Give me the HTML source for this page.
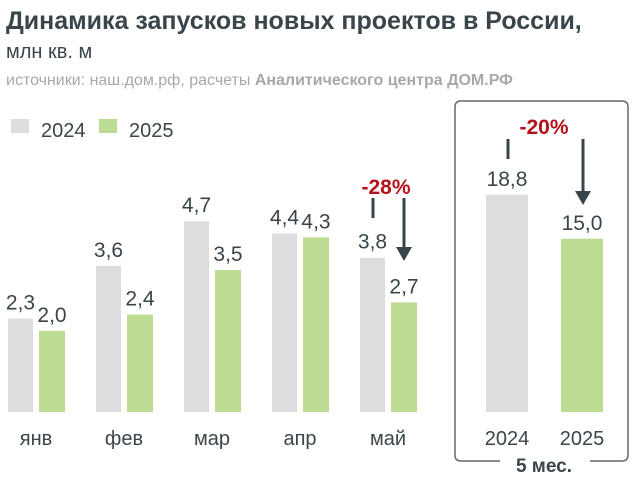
<!DOCTYPE html>
<html><head><meta charset="utf-8"><style>
body{margin:0;background:#fff;width:639px;height:481px;overflow:hidden;font-family:"Liberation Sans","DejaVu Sans",sans-serif}
</style></head><body>
<svg width="639" height="481" xmlns="http://www.w3.org/2000/svg">
<text x="6" y="29" font-size="25" font-weight="bold" fill="#3a454b">Динамика запусков новых проектов в России,</text>
<text x="6" y="58" font-size="20" fill="#3a454b">млн кв. м</text>
<text x="6" y="85" font-size="16" fill="#a8a8a8">источники: наш.дом.рф, расчеты <tspan font-weight="bold">Аналитического центра ДОМ.РФ</tspan></text>
<g>
<rect x="11" y="119" width="18" height="14" fill="#dcdddf"/>
<text x="41" y="137" font-size="20" fill="#3a454b">2024</text>
<rect x="99" y="119" width="18" height="14" fill="#bcdb93"/>
<text x="129" y="137" font-size="20" fill="#3a454b">2025</text>
</g>
<path d="M500,461 H461 Q455,461 455,455 V107 Q455,101 461,101 H622 Q628,101 628,107 V455 Q628,461 622,461 H590" fill="none" stroke="#666" stroke-width="1.5"/>
<text x="544" y="472" font-size="19" font-weight="bold" fill="#3a454b" text-anchor="middle">5 мес.</text>
<g id="bars"></g>
<g>
<text x="386" y="194" font-size="21" font-weight="bold" fill="#b5121b" text-anchor="middle">-28%</text>
<line x1="373" y1="198" x2="373" y2="218" stroke="#3a454b" stroke-width="3"/>
<line x1="404" y1="198" x2="404" y2="248" stroke="#3a454b" stroke-width="3"/>
<polygon points="396,247 412,247 404,261" fill="#3a454b"/>
</g>
<g>
<text x="544" y="134" font-size="21" font-weight="bold" fill="#b5121b" text-anchor="middle">-20%</text>
<line x1="508" y1="139" x2="508" y2="159" stroke="#3a454b" stroke-width="3"/>
<line x1="583" y1="139" x2="583" y2="192" stroke="#3a454b" stroke-width="3"/>
<polygon points="575,191 591,191 583,205" fill="#3a454b"/>
</g>
</svg>
<script>
const months=["янв","фев","мар","апр","май"];
const v2024=[2.3,3.6,4.7,4.4,3.8];
const v2025=[2.0,2.4,3.5,4.3,2.7];
const totalLabels=["2024","2025"];
const totals=[18.8,15.0];
const NS="http://www.w3.org/2000/svg";
const g=document.getElementById('bars');
const base=412, k=40.6, kt=11.55;
const fmt=v=>v.toFixed(1).replace('.',',');
function mk(tag,a){const e=document.createElementNS(NS,tag);for(const n in a)e.setAttribute(n,a[n]);g.appendChild(e);return e;}
function bar(x,w,h,fill,val){
 const r=mk('rect',{x:x,y:base-h,width:w,height:h,fill:fill});
 
 
 const t=mk('text',{x:x+w/2,y:base-h-9,'font-size':21,fill:'#3a454b','text-anchor':'middle'});
 t.textContent=fmt(val);
 
 
}
months.forEach((m,i)=>{
 const x=8+i*88;
 bar(x,25,v2024[i]*k,'#dcdddf',v2024[i]);
 bar(x+31,26,v2025[i]*k,'#bcdb93',v2025[i]);
 const t=mk('text',{x:x+28,y:445,'font-size':20,fill:'#3a454b','text-anchor':'middle'});
 t.textContent=m;
 
 
});
totals.forEach((v,i)=>{
 const x=486+i*75;
 bar(x,42,v*kt,i?'#bcdb93':'#dcdddf',v);
 const t=mk('text',{x:x+21,y:445,'font-size':20,fill:'#3a454b','text-anchor':'middle'});
 t.textContent=totalLabels[i];
 
 
});
</script>
</body></html>
